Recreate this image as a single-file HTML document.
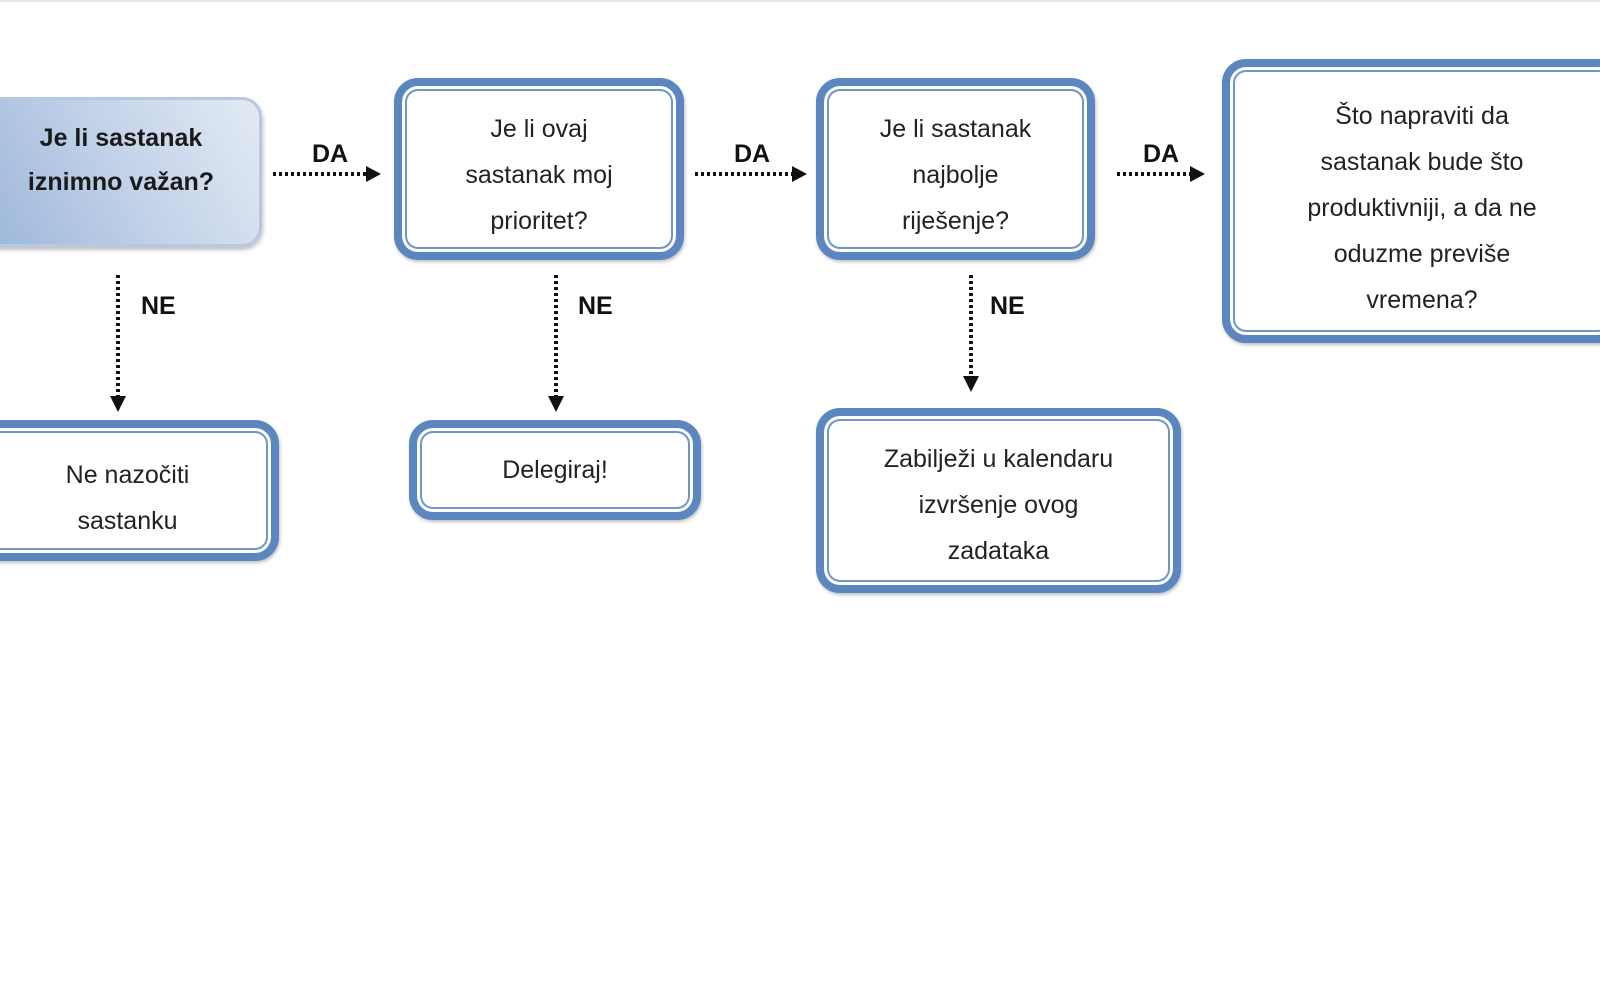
<!DOCTYPE html>
<html><head><meta charset="utf-8"><style>
body{margin:0;width:1600px;height:1000px;background:#fff;position:relative;overflow:hidden;font-family:"Liberation Sans",sans-serif;}
.b{position:absolute;box-sizing:border-box;border:8px solid #5b86bf;border-radius:24px;background:#fff;
box-shadow:inset 0 0 0 3px #fff, inset 0 0 0 5px #6f96c8, 1px 2px 3px rgba(0,0,0,.25);
display:flex;align-items:center;justify-content:center;text-align:center;font-size:25px;line-height:46px;color:#222;}
.g{position:absolute;box-sizing:border-box;border-radius:20px;display:flex;align-items:center;justify-content:center;text-align:center;
background:linear-gradient(240deg,#e3eaf4 0%,#c5d4ea 45%,#9cb6da 100%);border:3px solid #b7c9e2;font-weight:bold;font-size:25px;line-height:44px;color:#1a1a1a;box-shadow:1px 3px 4px rgba(0,0,0,.25);}
.l{position:absolute;font-weight:bold;font-size:25px;color:#111;}
svg{position:absolute;left:0;top:0}
</style></head><body>
<div style="position:absolute;left:0;top:0;width:1600px;height:2px;background:#e4e4e4"></div>
<div class="g" style="left:-20px;top:97px;width:282px;height:150px;padding-bottom:24px;">Je li sastanak<br>iznimno važan?</div>
<div class="b" style="left:394px;top:78px;width:290px;height:182px;padding-top:12px;">Je li ovaj<br>sastanak moj<br>prioritet?</div>
<div class="b" style="left:816px;top:78px;width:279px;height:182px;padding-top:12px;">Je li sastanak<br>najbolje<br>riješenje?</div>
<div class="b" style="left:1222px;top:59px;width:400px;height:284px;padding-top:14px;">Što napraviti da<br>sastanak bude što<br>produktivniji, a da ne<br>oduzme previše<br>vremena?</div>
<div class="b" style="left:-30px;top:420px;width:309px;height:141px;padding-left:6px;padding-top:14px;">Ne nazočiti<br>sastanku</div>
<div class="b" style="left:409px;top:420px;width:292px;height:100px;">Delegiraj!</div>
<div class="b" style="left:816px;top:408px;width:365px;height:185px;padding-top:8px;">Zabilježi u kalendaru<br>izvršenje ovog<br>zadataka</div>
<div class="l" style="left:312px;top:140px">DA</div>
<div class="l" style="left:734px;top:140px">DA</div>
<div class="l" style="left:1143px;top:140px">DA</div>
<div class="l" style="left:141px;top:292px">NE</div>
<div class="l" style="left:578px;top:292px">NE</div>
<div class="l" style="left:990px;top:292px">NE</div>
<svg width="1600" height="1000">
<g stroke="#111" stroke-width="4" stroke-dasharray="3 3" fill="none">
<line x1="273" y1="174" x2="366" y2="174"/>
<line x1="695" y1="174" x2="792" y2="174"/>
<line x1="1117" y1="174" x2="1190" y2="174"/>
<line x1="118" y1="275" x2="118" y2="396"/>
<line x1="556" y1="275" x2="556" y2="396"/>
<line x1="971" y1="275" x2="971" y2="376"/>
</g>
<g fill="#111">
<polygon points="366,166 381,174 366,182"/>
<polygon points="792,166 807,174 792,182"/>
<polygon points="1190,166 1205,174 1190,182"/>
<polygon points="110,396 126,396 118,412"/>
<polygon points="548,396 564,396 556,412"/>
<polygon points="963,376 979,376 971,392"/>
</g>
</svg>
</body></html>
